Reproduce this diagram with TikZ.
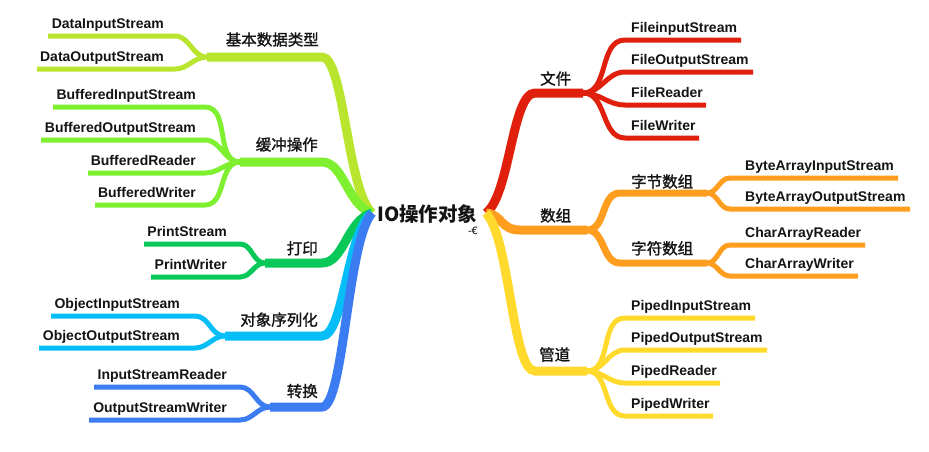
\documentclass[tikz,border=0pt]{standalone}
\usepackage{fontspec}
\setmainfont{Liberation Sans}
\newfontfamily\cjk[FakeBold=1.4]{Noto Sans CJK SC}
\newfontfamily\cjkroot{Noto Sans CJK SC}
\newfontfamily\symfont{DejaVu Sans}
\definecolor{cA}{HTML}{B9E52E}
\definecolor{cB}{HTML}{7EF030}
\definecolor{cC}{HTML}{08C85A}
\definecolor{cD}{HTML}{05BEF8}
\definecolor{cE}{HTML}{3B7CF2}
\definecolor{cR}{HTML}{E0200C}
\definecolor{cO}{HTML}{FF9E1E}
\definecolor{cY}{HTML}{FFDA2C}
\tikzset{
  mainline/.style={line width=9pt},
  subline/.style={line width=7pt},
  leafline/.style={line width=5pt},
  leaftext/.style={font=\bfseries\fontsize{14}{16}\selectfont, inner sep=0pt, text=black!92},
  cattext/.style={font=\cjk\fontsize{15.5}{18}\selectfont, inner sep=0pt, text=black!92},
  roottext/.style={font=\cjkroot\bfseries\fontsize{19.5}{22}\selectfont, inner sep=0pt, text=black!92},
}
\begin{document}
\begin{tikzpicture}[x=1pt,y=-1pt]
\useasboundingbox (0,0) rectangle (929,451);
\fill[white] (0,0) rectangle (929,451);

% root
\node[roottext, anchor=west] (root) at (377,214.5) {IO操作对象};
\node[font=\symfont\fontsize{10}{11}\selectfont, inner sep=0pt] (icon) at (473,231) {-€};
\coordinate (rl) at (372,213);
\coordinate (rr) at (486,213);

% ---------- left side ----------
% branch A
\coordinate (hA) at (322,57);  \coordinate (jA) at (207,57);
\draw[mainline,cA] (rl) .. controls (347,190) and (344,57) .. (hA) -- (jA);
\coordinate (eA1) at (175,36); \coordinate (sA1) at (48,36);
\coordinate (eA2) at (175,69); \coordinate (sA2) at (37,69);
\draw[leafline,cA] (jA) to[out=180,in=0] (eA1) -- (sA1);
\draw[leafline,cA] (jA) to[out=180,in=0] (eA2) -- (sA2);
\node[cattext, anchor=east] (catA) at (319,39.5) {基本数据类型};
\node[leaftext, anchor=base east] (lA1) at (164,28.5) {DataInputStream};
\node[leaftext, anchor=base east] (lA2) at (164,61.5) {DataOutputStream};

% branch B
\coordinate (hB) at (322,162); \coordinate (jB) at (240,162);
\draw[mainline,cB] (rl) .. controls (347,205) and (344,162) .. (hB) -- (jB);
\coordinate (eB1) at (205,107); \coordinate (sB1) at (53,107);
\coordinate (eB2) at (205,140); \coordinate (sB2) at (41,140);
\coordinate (eB3) at (205,173); \coordinate (sB3) at (88,173);
\coordinate (eB4) at (205,205); \coordinate (sB4) at (95,205);
\foreach \i in {1,2,3,4}{\draw[leafline,cB] (jB) to[out=180,in=0] (eB\i) -- (sB\i);}
\node[cattext, anchor=east] (catB) at (318,144.5) {缓冲操作};
\node[leaftext, anchor=base east] (lB1) at (196,99.5) {BufferedInputStream};
\node[leaftext, anchor=base east] (lB2) at (196,132.5) {BufferedOutputStream};
\node[leaftext, anchor=base east] (lB3) at (196,165.5) {BufferedReader};
\node[leaftext, anchor=base east] (lB4) at (196,197.5) {BufferedWriter};

% branch C
\coordinate (hC) at (322,263); \coordinate (jC) at (265,263);
\draw[mainline,cC] (rl) .. controls (347,220) and (344,263) .. (hC) -- (jC);
\coordinate (eC1) at (240,244); \coordinate (sC1) at (144,244);
\coordinate (eC2) at (240,277); \coordinate (sC2) at (151,277);
\foreach \i in {1,2}{\draw[leafline,cC] (jC) to[out=180,in=0] (eC\i) -- (sC\i);}
\node[cattext, anchor=east] (catC) at (318,248.3) {打印};
\node[leaftext, anchor=base east] (lC1) at (227,236.5) {PrintStream};
\node[leaftext, anchor=base east] (lC2) at (227,269.5) {PrintWriter};

% branch D
\coordinate (hD) at (322,336); \coordinate (jD) at (225,336);
\draw[mainline,cD] (rl) .. controls (347,231) and (344,336) .. (hD) -- (jD);
\coordinate (eD1) at (195,316); \coordinate (sD1) at (51,316);
\coordinate (eD2) at (195,348); \coordinate (sD2) at (39,348);
\foreach \i in {1,2}{\draw[leafline,cD] (jD) to[out=180,in=0] (eD\i) -- (sD\i);}
\node[cattext, anchor=east] (catD) at (318,319.7) {对象序列化};
\node[leaftext, anchor=base east] (lD1) at (180,308.5) {ObjectInputStream};
\node[leaftext, anchor=base east] (lD2) at (180,340.5) {ObjectOutputStream};

% branch E
\coordinate (hE) at (322,407); \coordinate (jE) at (270,407);
\draw[mainline,cE] (rl) .. controls (347,242) and (344,407) .. (hE) -- (jE);
\coordinate (eE1) at (240,387); \coordinate (sE1) at (94,387);
\coordinate (eE2) at (240,420); \coordinate (sE2) at (89,420);
\foreach \i in {1,2}{\draw[leafline,cE] (jE) to[out=180,in=0] (eE\i) -- (sE\i);}
\node[cattext, anchor=east] (catE) at (318,391) {转换};
\node[leaftext, anchor=base east] (lE1) at (227,379.5) {InputStreamReader};
\node[leaftext, anchor=base east] (lE2) at (227,412.5) {OutputStreamWriter};

% ---------- right side ----------
% red
\coordinate (hR) at (535,93); \coordinate (jR) at (583,93);
\draw[mainline,cR] (rr) .. controls (510,195) and (512,93) .. (hR) -- (jR);
\coordinate (eR1) at (625,40);  \coordinate (sR1) at (741,40);
\coordinate (eR2) at (625,72);  \coordinate (sR2) at (753,72);
\coordinate (eR3) at (625,105); \coordinate (sR3) at (706,105);
\coordinate (eR4) at (625,138); \coordinate (sR4) at (699,138);
\foreach \i in {1,2,3,4}{\draw[leafline,cR] (jR) to[out=0,in=180] (eR\i) -- (sR\i);}
\node[cattext, anchor=west] (catR) at (540,78.5) {文件};
\node[leaftext, anchor=base west] (lR1) at (631,32.5) {FileinputStream};
\node[leaftext, anchor=base west] (lR2) at (631,64.5) {FileOutputStream};
\node[leaftext, anchor=base west] (lR3) at (631,97.5) {FileReader};
\node[leaftext, anchor=base west] (lR4) at (631,130.5) {FileWriter};

% orange
\coordinate (hO) at (520,230); \coordinate (jO) at (587,230);
\draw[mainline,cO] (rr) .. controls (502,214) and (500,230) .. (hO) -- (jO);
\node[cattext, anchor=west] (catO) at (540,215.5) {数组};
% sub byte
\coordinate (hO1) at (620,193); \coordinate (jO1) at (707,193);
\draw[subline,cO] (jO) to[out=0,in=180] (hO1) -- (jO1);
\coordinate (eO11) at (730,178); \coordinate (sO11) at (898,178);
\coordinate (eO12) at (730,209); \coordinate (sO12) at (910,209);
\foreach \i in {1,2}{\draw[leafline,cO] (jO1) to[out=0,in=180] (eO1\i) -- (sO1\i);}
\node[cattext, anchor=west] (catO1) at (631,181.5) {字节数组};
\node[leaftext, anchor=base west] (lO11) at (745,170.5) {ByteArrayInputStream};
\node[leaftext, anchor=base west] (lO12) at (745,201.5) {ByteArrayOutputStream};
% sub char
\coordinate (hO2) at (620,263); \coordinate (jO2) at (707,263);
\draw[subline,cO] (jO) to[out=0,in=180] (hO2) -- (jO2);
\coordinate (eO21) at (730,245); \coordinate (sO21) at (865,245);
\coordinate (eO22) at (730,276); \coordinate (sO22) at (858,276);
\foreach \i in {1,2}{\draw[leafline,cO] (jO2) to[out=0,in=180] (eO2\i) -- (sO2\i);}
\node[cattext, anchor=west] (catO2) at (631,248.3) {字符数组};
\node[leaftext, anchor=base west] (lO21) at (745,237.5) {CharArrayReader};
\node[leaftext, anchor=base west] (lO22) at (745,268.5) {CharArrayWriter};

% yellow
\coordinate (hY) at (535,371); \coordinate (jY) at (587,371);
\draw[mainline,cY] (rr) .. controls (510,238) and (512,371) .. (hY) -- (jY);
\coordinate (eY1) at (625,318); \coordinate (sY1) at (755,318);
\coordinate (eY2) at (625,350); \coordinate (sY2) at (767,350);
\coordinate (eY3) at (625,383); \coordinate (sY3) at (720,383);
\coordinate (eY4) at (625,416); \coordinate (sY4) at (713,416);
\foreach \i in {1,2,3,4}{\draw[leafline,cY] (jY) to[out=0,in=180] (eY\i) -- (sY\i);}
\node[cattext, anchor=west] (catY) at (539,354.5) {管道};
\node[leaftext, anchor=base west] (lY1) at (631,310.5) {PipedInputStream};
\node[leaftext, anchor=base west] (lY2) at (631,342.5) {PipedOutputStream};
\node[leaftext, anchor=base west] (lY3) at (631,375.5) {PipedReader};
\node[leaftext, anchor=base west] (lY4) at (631,408.5) {PipedWriter};
\end{tikzpicture}
\end{document}
